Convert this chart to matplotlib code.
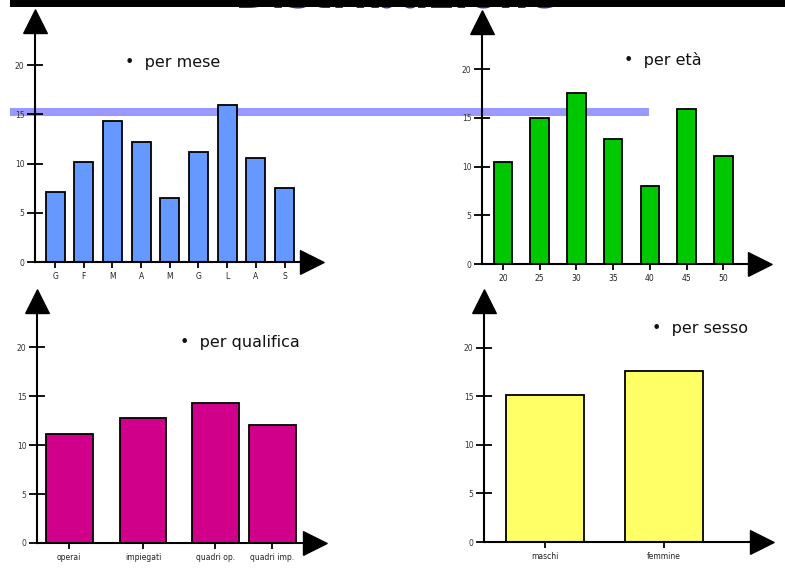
import numpy as np
import matplotlib
matplotlib.use('Agg')
import matplotlib.pyplot as plt
from matplotlib.lines import Line2D
from matplotlib.patches import Rectangle

mesi = ['G', 'F', 'M', 'A', 'M', 'G', 'L', 'A', 'S']
val_mese = [7.1, 10.2, 14.3, 12.2, 6.5, 11.2, 15.9, 10.6, 7.5]

eta = ['20', '25', '30', '35', '40', '45', '50']
val_eta = [10.5, 15.0, 17.5, 12.8, 8.0, 15.9, 11.1]

qualifiche = ['operai', 'impiegati', 'quadri op.', 'quadri imp.']
val_qualifica = [11.1, 12.8, 14.25, 12.0]

sessi = ['maschi', 'femmine']
val_sesso = [15.1, 17.6]

W, H = 785, 571
fig = plt.figure(figsize=(W / 100, H / 100), dpi=100)

# triangular arrow heads, anchored at their base
freccia_su = [(-0.5, 0), (0.5, 0), (0, 1), (-0.5, 0)]
freccia_dx = [(0, -0.5), (0, 0.5), (1, 0), (0, -0.5)]


def pannello(left, bottom, right, top, ymax, xlim):
    # axes placed in pixel units (y measured from the top)
    ax = fig.add_axes([left / W, 1 - bottom / H, (right - left) / W, (bottom - top) / H])
    ax.set_facecolor('none')
    ax.set_ylim(0, ymax)
    ax.set_xlim(*xlim)
    for s in ['top', 'right']:
        ax.spines[s].set_visible(False)
    for s in ['left', 'bottom']:
        ax.spines[s].set_linewidth(1.5)
        ax.spines[s].set_zorder(4)
    ax.plot(0, 1, marker=freccia_su, ms=34, color='black', transform=ax.transAxes, clip_on=False)
    ax.plot(1, 0, marker=freccia_dx, ms=34, color='black', transform=ax.transAxes, clip_on=False)
    ax.set_yticks([0, 5, 10, 15, 20])
    ax.tick_params(axis='y', direction='inout', length=11, width=1.3, labelsize=5.5, pad=2, labelcolor='#333333')
    ax.tick_params(axis='x', direction='out', length=4.5, width=1.3, labelsize=5.5, pad=3, labelcolor='#222222')
    return ax


# per mese
ax1 = pannello(35, 262, 300, 33, 23.25, (-0.70, 8.54))
x1 = np.arange(len(mesi))
ax1.bar(x1, val_mese, width=0.66, color='#6699ff', edgecolor='black', linewidth=1.3, zorder=3)
ax1.set_xticks(x1)
ax1.set_xticklabels(mesi)

# per età
ax2 = pannello(482, 264, 748, 34, 23.6, (-0.57, 6.67))
x2 = np.arange(len(eta))
ax2.bar(x2, val_eta, width=0.5, color='#00c800', edgecolor='black', linewidth=1.3, zorder=3)
ax2.set_xticks(x2)
ax2.set_xticklabels(eta)

# per qualifica (last two columns sit closer together)
ax3 = pannello(37, 543, 303, 313, 23.47, (-0.44, 3.2))
x3 = [0, 1.01, 2.0, 2.78]
ax3.bar(x3, val_qualifica, width=0.64, color='#d0008a', edgecolor='black', linewidth=1.3, zorder=3)
ax3.set_xticks(x3)
ax3.set_xticklabels(qualifiche)

# per sesso
ax4 = pannello(484, 542, 750, 313, 23.6, (-0.51, 1.72))
x4 = np.arange(len(sessi))
ax4.bar(x4, val_sesso, width=0.65, color='#ffff66', edgecolor='black', linewidth=1.3, zorder=3)
ax4.set_xticks(x4)
ax4.set_xticklabels(sessi)

# captions
for x, y, t in [(125, 62, 'per mese'), (624, 60, 'per età'),
                (180, 342, 'per qualifica'), (652, 329, 'per sesso')]:
    fig.text(x / W, 1 - y / H, '\u2022  ' + t, fontsize=11.5, color='#111111', va='center')

# reference band across the upper panels
fig.add_artist(Line2D([10 / W, 649 / W], [1 - 112 / H, 1 - 112 / H],
                      transform=fig.transFigure, color='#9999ff', lw=5.8,
                      solid_capstyle='butt', zorder=-1))

# title partly hidden under the top black strip
fig.text(397 / W, 1 - 7 / H, 'Distribuzione', fontsize=31, fontweight='bold',
         color='#27337a', ha='center', va='baseline', zorder=5)
fig.add_artist(Rectangle((10 / W, 1 - 7 / H), 1, 7 / H, transform=fig.transFigure,
                         facecolor='black', edgecolor='none', zorder=10))

fig.savefig('out.png', dpi=100)
